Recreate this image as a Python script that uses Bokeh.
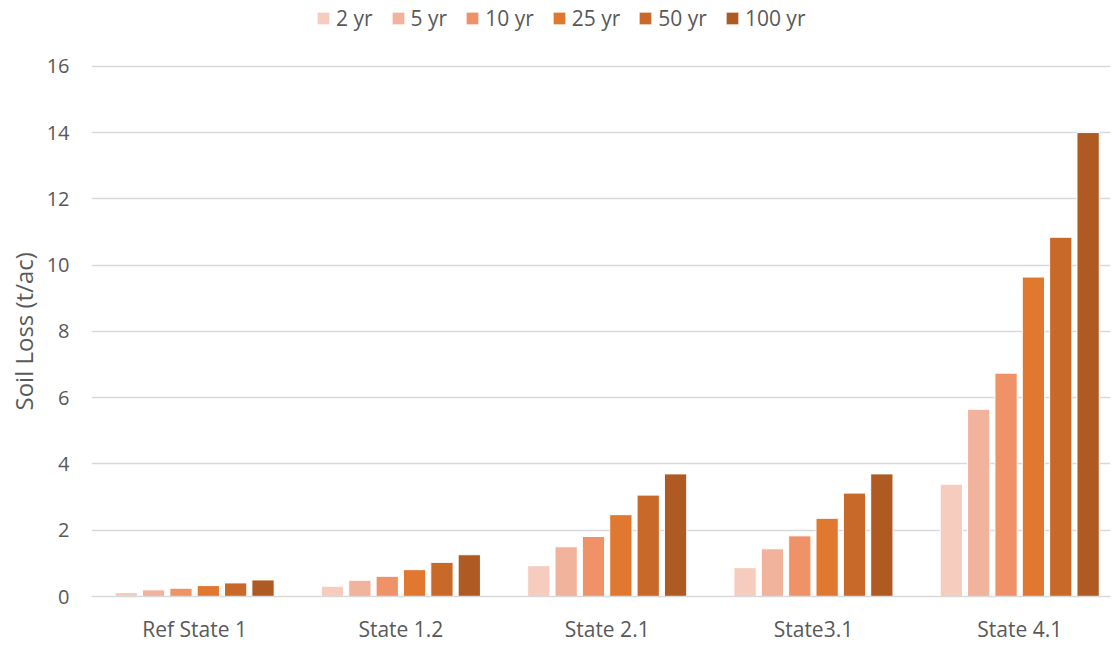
from bokeh.plotting import figure
from bokeh.models import ColumnDataSource, Range1d, Legend, LegendItem, FixedTicker, Title
from bokeh.transform import dodge
from bokeh.embed import file_html
from bokeh.resources import INLINE

categories = ["Ref State 1", "State 1.2", "State 2.1", "State3.1", "State 4.1"]
series = ["2 yr", "5 yr", "10 yr", "25 yr", "50 yr", "100 yr"]
yr2 = [0.12, 0.31, 0.93, 0.87, 3.39]
yr5 = [0.20, 0.49, 1.50, 1.44, 5.65]
yr10 = [0.25, 0.61, 1.81, 1.83, 6.74]
yr25 = [0.33, 0.81, 2.47, 2.36, 9.64]
yr50 = [0.41, 1.03, 3.06, 3.12, 10.84]
yr100 = [0.50, 1.26, 3.70, 3.70, 14.0]
y_ticks = [0, 2, 4, 6, 8, 10, 12, 14, 16]
colors = ["#F6CCBE", "#F2B39C", "#EF9268", "#E07830", "#C8692A", "#AE5A22"]

values = [yr2, yr5, yr10, yr25, yr50, yr100]
idx = list(range(len(categories)))
data = {"cat": categories, "idx": idx}
keys = []
for name, vals in zip(series, values):
    k = "v" + name.replace(" ", "")
    keys.append(k)
    data[k] = vals
source = ColumnDataSource(data)

FONT = "Open Sans"
TXT = "#595959"
GRID = "#d9d9d9"

PLOT_H = 645
BOTTOM = 47
frame_h = PLOT_H - BOTTOM
y_top = 16 * frame_h / (frame_h - 66)

p = figure(x_range=Range1d(-0.5, 4.44), y_range=Range1d(0, y_top),
           width=1112, height=PLOT_H, output_backend="svg", toolbar_location=None,
           min_border_left=91, min_border_right=2, min_border_top=0, min_border_bottom=BOTTOM)
p.outline_line_color = None

step = 0.1326
bw = 0.108
items = []
for i, (name, k, c) in enumerate(zip(series, keys, colors)):
    r = p.vbar(x=dodge("idx", (i - 2.5) * step), top=k, width=bw,
               source=source, fill_color=c, line_color="white", line_width=1)
    items.append(LegendItem(label=name, renderers=[r]))

legend = Legend(items=items, orientation="horizontal", location=(224, 564),
                label_text_font=FONT, label_text_font_size="21px", label_text_color=TXT,
                glyph_width=16, glyph_height=16, label_standoff=5, spacing=17,
                padding=0, margin=0, border_line_color=None, background_fill_alpha=0)
p.add_layout(legend, "center")

p.yaxis.ticker = FixedTicker(ticks=y_ticks)
p.yaxis.axis_line_color = None
p.yaxis.major_tick_line_color = None
p.yaxis.minor_tick_line_color = None
p.yaxis.major_tick_out = 0
p.yaxis.major_tick_in = 0
p.yaxis.major_label_text_font = FONT
p.yaxis.major_label_text_font_size = "20px"
p.yaxis.major_label_text_color = TXT
p.yaxis.major_label_standoff = 22

ytitle = Title(text="Soil Loss (t/ac)", align="left", offset=186, standoff=8,
               text_font=FONT, text_font_size="24px", text_font_style="normal",
               text_color=TXT)
p.add_layout(ytitle, "left")

p.xaxis.ticker = FixedTicker(ticks=idx)
p.xaxis.major_label_overrides = {i: c for i, c in zip(idx, categories)}
p.xaxis.axis_line_color = GRID
p.xaxis.axis_line_width = 1.5
p.xaxis.major_tick_line_color = None
p.xaxis.minor_tick_line_color = None
p.xaxis.major_tick_out = 0
p.xaxis.major_tick_in = 0
p.xaxis.major_label_text_font = FONT
p.xaxis.major_label_text_font_size = "21px"
p.xaxis.major_label_text_color = TXT
p.xaxis.major_label_standoff = 18

p.xgrid.grid_line_color = None
p.ygrid.grid_line_color = GRID
p.ygrid.grid_line_width = 1.5

open("out.html", "w").write(file_html(p, INLINE))
